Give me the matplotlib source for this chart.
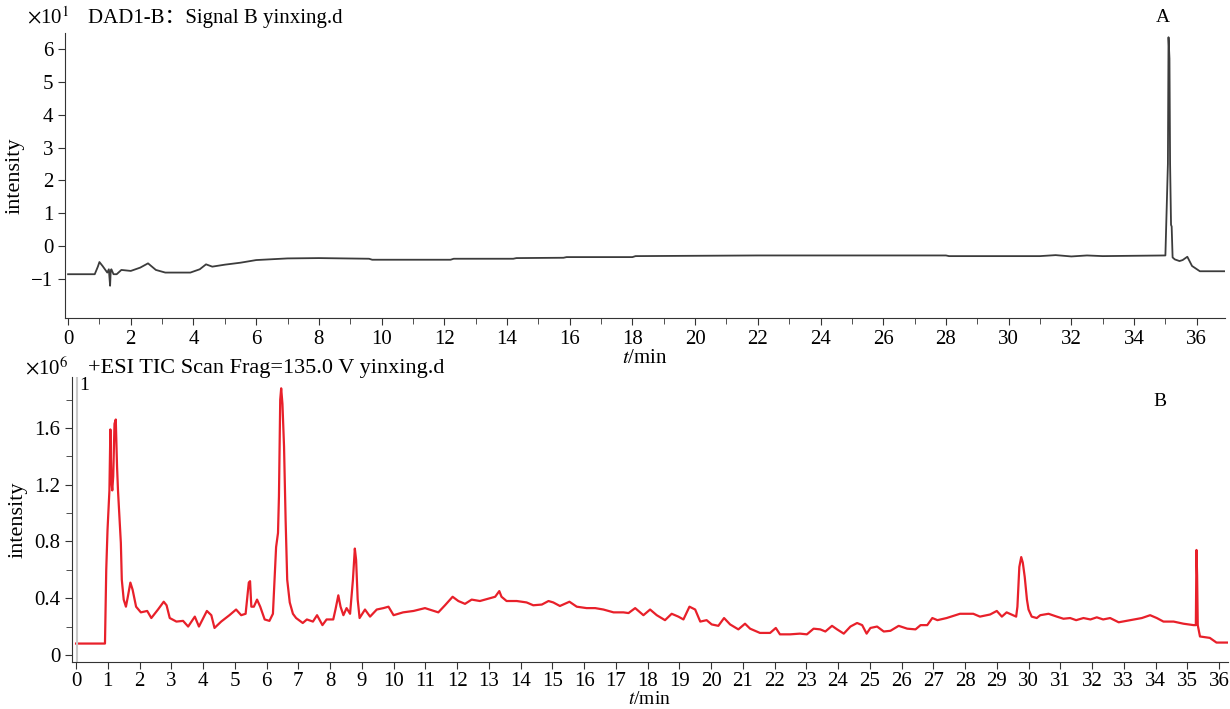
import matplotlib
matplotlib.use("Agg")
import matplotlib.pyplot as plt
from matplotlib.ticker import MultipleLocator
import numpy as np

plt.rcParams['font.family'] = ['Liberation Serif', 'Noto Sans CJK SC']
plt.rcParams['mathtext.fontset'] = 'stix'

# panel A: DAD signal (x10^1)
t_a = [0, 0.85, 0.95, 1.0, 1.1, 1.25, 1.3, 1.34, 1.36, 1.38,
       1.45, 1.55, 1.7, 2.0, 2.3, 2.55, 2.8, 3.1, 3.9, 4.2,
       4.4, 4.6, 5.0, 5.5, 6.0, 7.0, 8.0, 9.6, 9.7, 12.2,
       12.3, 14.2, 14.3, 15.8, 15.9, 18.0, 18.1, 22.0, 28.0, 28.1,
       31.0, 31.5, 32.0, 32.5, 33.0, 35.0, 35.08, 35.1, 35.13, 35.15,
       35.18, 35.2, 35.23, 35.3, 35.45, 35.55, 35.7, 35.85, 36.1, 36.9]
y_a = [-0.85, -0.85, -0.62, -0.48, -0.6, -0.8, -0.7, -1.2, -0.75, -0.7,
       -0.85, -0.85, -0.72, -0.75, -0.65, -0.52, -0.72, -0.8, -0.8, -0.7,
       -0.55, -0.62, -0.56, -0.5, -0.42, -0.37, -0.36, -0.38, -0.41, -0.41,
       -0.38, -0.38, -0.36, -0.35, -0.33, -0.33, -0.3, -0.28, -0.28, -0.3,
       -0.3, -0.27, -0.31, -0.28, -0.3, -0.28, 2.5, 6.35, 5.7, 2.5,
       0.65, 0.6, -0.34, -0.4, -0.45, -0.42, -0.32, -0.6, -0.76, -0.76]

# panel B: TIC (x10^6)
t_b = [0, 0.91, 0.95, 0.99, 1.05, 1.08, 1.11, 1.14, 1.17, 1.21,
       1.25, 1.29, 1.32, 1.36, 1.41, 1.44, 1.5, 1.57, 1.63, 1.71,
       1.78, 1.89, 2.04, 2.24, 2.37, 2.58, 2.76, 2.85, 2.95, 3.16,
       3.37, 3.53, 3.74, 3.87, 4.12, 4.26, 4.36, 4.57, 4.83, 5.04,
       5.2, 5.34, 5.44, 5.48, 5.52, 5.6, 5.7, 5.8, 5.94, 6.09,
       6.2, 6.25, 6.3, 6.36, 6.39, 6.43, 6.46, 6.5, 6.55, 6.6,
       6.65, 6.73, 6.83, 6.93, 7.14, 7.27, 7.46, 7.59, 7.76, 7.89,
       8.1, 8.17, 8.26, 8.33, 8.42, 8.52, 8.63, 8.72, 8.78, 8.82,
       8.87, 8.93, 9.1, 9.26, 9.47, 9.68, 9.84, 10.0, 10.3, 10.63,
       10.99, 11.41, 11.62, 11.86, 12.04, 12.25, 12.46, 12.72, 13.04, 13.2,
       13.33, 13.4, 13.56, 13.88, 14.19, 14.4, 14.67, 14.88, 15.03, 15.24,
       15.54, 15.77, 16.08, 16.35, 16.61, 16.93, 17.24, 17.4, 17.61, 17.87,
       18.08, 18.29, 18.55, 18.76, 18.97, 19.13, 19.32, 19.5, 19.66, 19.86,
       20.02, 20.23, 20.41, 20.6, 20.86, 21.07, 21.23, 21.54, 21.86, 22.04,
       22.17, 22.49, 22.8, 23.02, 23.23, 23.44, 23.6, 23.81, 23.97, 24.18,
       24.39, 24.6, 24.76, 24.9, 25.02, 25.23, 25.44, 25.65, 25.91, 26.18,
       26.44, 26.6, 26.81, 26.97, 27.13, 27.42, 27.84, 28.26, 28.47, 28.79,
       29.0, 29.16, 29.31, 29.61, 29.65, 29.68, 29.71, 29.77, 29.82, 29.88,
       29.95, 30.0, 30.1, 30.26, 30.37, 30.63, 30.89, 31.1, 31.31, 31.5,
       31.73, 31.95, 32.15, 32.35, 32.57, 32.84, 33.2, 33.57, 33.83, 34.04,
       34.25, 34.57, 34.88, 35.2, 35.27, 35.29, 35.31, 35.33, 35.4, 35.71,
       35.92, 36.3]
y_b = [0.08, 0.08, 0.6, 0.88, 1.16, 1.59, 1.23, 1.16, 1.26, 1.63,
       1.66, 1.33, 1.16, 1.0, 0.79, 0.53, 0.39, 0.34, 0.41, 0.51,
       0.46, 0.34, 0.3, 0.31, 0.26, 0.32, 0.375, 0.35, 0.26, 0.235,
       0.24, 0.2, 0.27, 0.2, 0.31, 0.28, 0.19, 0.235, 0.28, 0.32,
       0.28, 0.29, 0.51, 0.52, 0.34, 0.34, 0.39, 0.34, 0.25, 0.24,
       0.29, 0.53, 0.76, 0.86, 1.12, 1.8, 1.88, 1.77, 1.47, 0.95,
       0.53, 0.37, 0.29, 0.26, 0.225, 0.25, 0.235, 0.28, 0.21, 0.25,
       0.25, 0.32, 0.42, 0.34, 0.28, 0.33, 0.29, 0.53, 0.75, 0.67,
       0.39, 0.26, 0.32, 0.27, 0.32, 0.33, 0.34, 0.28, 0.3, 0.31,
       0.33, 0.3, 0.35, 0.41, 0.38, 0.36, 0.39, 0.38, 0.4, 0.41,
       0.45, 0.41, 0.38, 0.38, 0.37, 0.35, 0.355, 0.38, 0.37, 0.345,
       0.375, 0.34, 0.33, 0.33, 0.32, 0.3, 0.3, 0.295, 0.33, 0.28,
       0.32, 0.28, 0.245, 0.29, 0.27, 0.25, 0.34, 0.32, 0.235, 0.245,
       0.215, 0.205, 0.26, 0.215, 0.18, 0.22, 0.185, 0.155, 0.155, 0.19,
       0.145, 0.145, 0.15, 0.145, 0.185, 0.18, 0.165, 0.205, 0.18, 0.15,
       0.2, 0.225, 0.21, 0.15, 0.19, 0.2, 0.165, 0.17, 0.205, 0.185,
       0.18, 0.21, 0.21, 0.26, 0.245, 0.26, 0.29, 0.29, 0.27, 0.285,
       0.31, 0.27, 0.3, 0.27, 0.34, 0.48, 0.62, 0.69, 0.65, 0.55,
       0.39, 0.32, 0.27, 0.26, 0.28, 0.29, 0.27, 0.255, 0.26, 0.245,
       0.26, 0.25, 0.265, 0.25, 0.26, 0.23, 0.245, 0.26, 0.28, 0.26,
       0.235, 0.235, 0.22, 0.21, 0.21, 0.74, 0.56, 0.21, 0.13, 0.12,
       0.087, 0.087]

fig = plt.figure(figsize=(12.3, 7.09), dpi=100)
ax1 = fig.add_axes([0.0528, 0.5515, 0.9431, 0.402])
ax2 = fig.add_axes([0.0585, 0.0663, 0.9398, 0.402])

ax1.plot(t_a, y_a, color="#3c3c3c", lw=1.3)
ax1.set_xlim(-0.1, 36.9)
ax1.set_ylim(-2.18, 6.48)
ax1.xaxis.set_major_locator(MultipleLocator(2))
ax1.xaxis.set_minor_locator(MultipleLocator(1))
ax1.set_yticks(range(-1, 7))

ax2.plot(t_b, y_b, color="#e8202a", lw=1.6)
ax2.axvline(0.03, color="#c8c8c8", lw=1.5)
ax2.set_xlim(-0.13, 36.28)
ax2.set_ylim(-0.05, 1.96)
ax2.xaxis.set_major_locator(MultipleLocator(1))
ax2.set_yticks([0, 0.4, 0.8, 1.2, 1.6])
ax2.set_yticklabels(["0", "0.4", "0.8", "1.2", "1.6"])
ax2.yaxis.set_minor_locator(MultipleLocator(0.2))

for ax in (ax1, ax2):
    for s in ("top", "right"):
        ax.spines[s].set_visible(False)
    ax.spines["left"].set_color("#333333")
    ax.spines["bottom"].set_color("#333333")
    ax.tick_params(which="both", direction="out", color="#333333", labelsize=15)
    ax.tick_params(which="major", length=5)
    ax.tick_params(which="minor", length=4)
    ax.set_ylabel("intensity", fontsize=16, labelpad=5)

ax2.tick_params(axis="x", pad=2)
ax1.set_xlabel("$t$/min", fontsize=15, labelpad=0)
ax2.set_xlabel("$t$/min", fontsize=14, labelpad=0)

fig.text(27 / 1230, 1 - 18 / 709, r"$\times$10$^{1}$", fontsize=15, va="center")
fig.text(88 / 1230, 1 - 18 / 709, "DAD1-B：Signal B yinxing.d", fontsize=15, va="center")
fig.text(1163 / 1230, 1 - 17 / 709, "A", fontsize=14, va="center", ha="center")
fig.text(25 / 1230, 1 - 368 / 709, r"$\times$10$^{6}$", fontsize=15, va="center")
fig.text(88 / 1230, 1 - 368 / 709, "+ESI TIC Scan Frag=135.0 V yinxing.d", fontsize=16, va="center")
fig.text(1160 / 1230, 1 - 401 / 709, "B", fontsize=14, va="center", ha="center")
fig.text(84 / 1230, 1 - 385 / 709, "1", fontsize=14, va="center", ha="center")

fig.savefig("out.png", dpi=100)
